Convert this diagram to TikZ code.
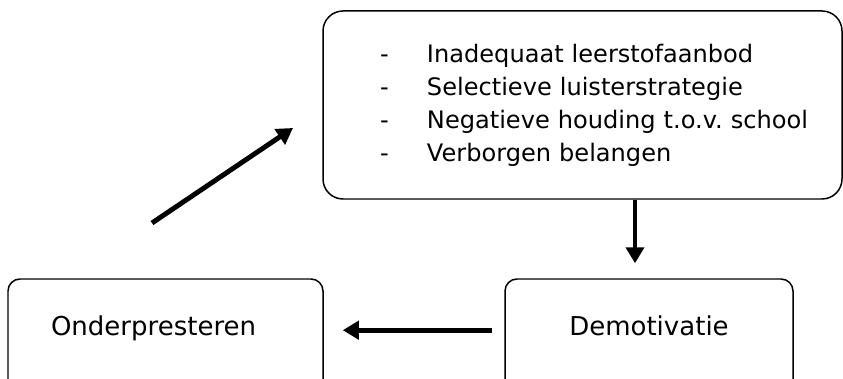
\documentclass[tikz,border=0pt]{standalone}
\usepackage{fontspec}
\setmainfont{DejaVu Sans}
\usepackage{tikz}
\usetikzlibrary{positioning, arrows, arrows.meta}
\newcommand{\lijstpunt}[1]{\hspace*{1.14cm}\makebox[0.94cm][l]{-}#1}
\frenchspacing

\begin{document}
\begin{tikzpicture}[
  blok/.style={draw, line width=0.85pt, rounded corners=0.24cm, inner ysep=0pt, text height=1.12cm, text depth=1.3cm, font=\fontsize{14.8}{18}\selectfont},
  pijl/.style={-{Triangle[length=0.32cm,width=0.36cm]}, line width=2.8pt}]
\useasboundingbox (0,0) rectangle (16.86,7.56);
\clip (0,0) rectangle (16.86,7.56);
\node[draw, line width=0.85pt, rounded corners=0.4cm, text width=10.38cm, inner xsep=0pt, inner ysep=0pt, minimum height=3.76cm, align=left, font=\fontsize{13.7}{18.8}\selectfont] (lijst) at (11.65,5.46) {\lijstpunt{Inadequaat leerstofaanbod}\\
\lijstpunt{Selectieve luisterstrategie}\\
\lijstpunt{Negatieve houding t.o.v. school}\\
\lijstpunt{Verborgen belangen}};
\node[blok, anchor=base, text width=4.58cm, inner xsep=0.86cm, align=left] (onder) at (3.31,0.86) {Onderpresteren};
\node[blok, anchor=base, minimum width=5.76cm] (demot) at (12.98,0.86) {Demotivatie};
\coordinate (van) at (3.04,3.10);
\coordinate (naar) at (5.86,5.00);
\draw[pijl] (van) -- (naar);
\draw[pijl, shorten >=0.3cm] ([xshift=1.05cm]lijst.south) -- ([xshift=1.05cm]lijst.south |- demot.north);
\draw[pijl, shorten <=0.24cm, shorten >=0.38cm] (demot.mid west) -- (onder.mid east);
\end{tikzpicture}
\end{document}
